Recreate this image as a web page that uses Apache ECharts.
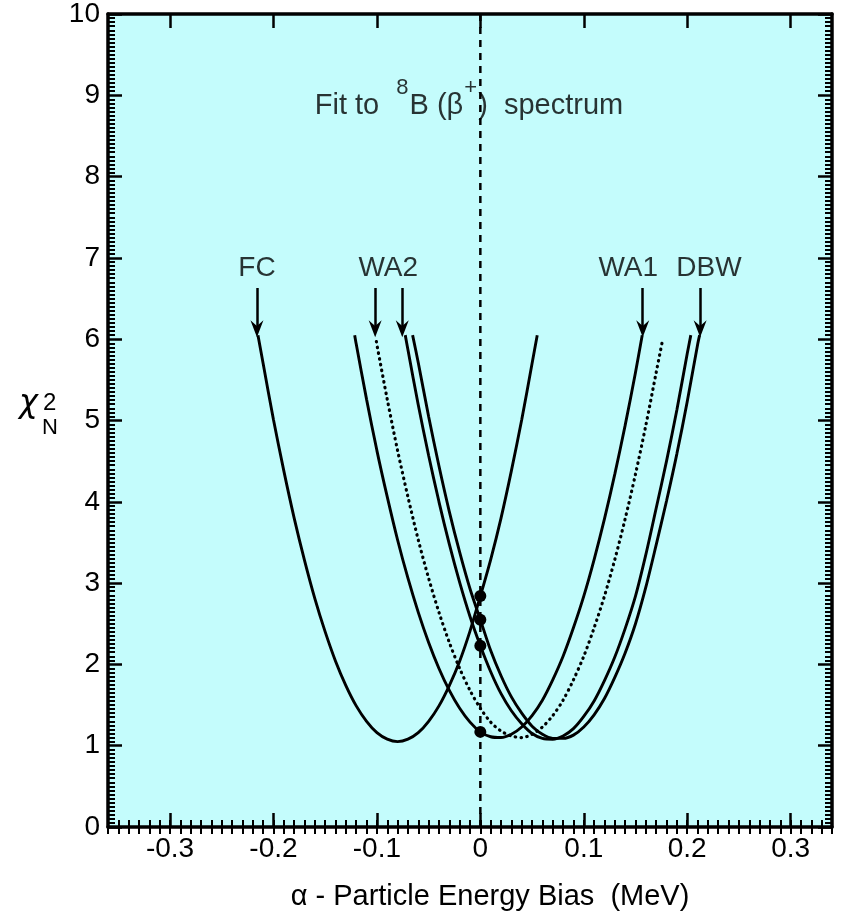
<!DOCTYPE html>
<html>
<head>
<meta charset="utf-8">
<script src="https://cdn.jsdelivr.net/npm/echarts@6/dist/echarts.min.js"></script>
<style>
  html, body { margin: 0; padding: 0; background: #ffffff; }
  #chart { width: 841px; height: 916px; }
</style>
</head>
<body>
<div id="chart"></div>
<script>
// Normalised chi-square vs alpha-particle energy bias (MeV), one curve per data set.
const xTickValues = [-0.3, -0.2, -0.1, 0, 0.1, 0.2, 0.3];
const yTickValues = [0, 1, 2, 3, 4, 5, 6, 7, 8, 9, 10];

const fcCurve = [
  [-0.215, 6.05], [-0.21, 5.70], [-0.20, 5.01], [-0.19, 4.38], [-0.18, 3.80],
  [-0.17, 3.28], [-0.16, 2.81], [-0.15, 2.40], [-0.14, 2.04], [-0.13, 1.74],
  [-0.12, 1.49], [-0.11, 1.30], [-0.10, 1.16], [-0.09, 1.08], [-0.08, 1.05],
  [-0.07, 1.08], [-0.06, 1.16], [-0.05, 1.30], [-0.04, 1.49], [-0.03, 1.74],
  [-0.02, 2.04], [-0.01, 2.41], [0, 2.84], [0.01, 3.29], [0.02, 3.80],
  [0.03, 4.38], [0.04, 5.01], [0.05, 5.70], [0.055, 6.05]
];
const wa1Curve = [
  [-0.1215, 6.05], [-0.12, 5.94], [-0.11, 5.26], [-0.10, 4.63], [-0.09, 4.06],
  [-0.08, 3.53], [-0.07, 3.06], [-0.06, 2.64], [-0.05, 2.27], [-0.04, 1.95],
  [-0.03, 1.68], [-0.02, 1.46], [-0.01, 1.29], [0, 1.17], [0.01, 1.11],
  [0.02, 1.10], [0.03, 1.14], [0.04, 1.23], [0.05, 1.37], [0.06, 1.56],
  [0.07, 1.81], [0.08, 2.10], [0.09, 2.45], [0.10, 2.84], [0.11, 3.29],
  [0.12, 3.79], [0.13, 4.34], [0.14, 4.94], [0.15, 5.59], [0.1565, 6.05]
];
const wa2DottedCurve = [
  [-0.1005, 5.97], [-0.10, 5.93], [-0.09, 5.26], [-0.08, 4.63], [-0.07, 4.06],
  [-0.06, 3.53], [-0.05, 3.06], [-0.04, 2.64], [-0.03, 2.27], [-0.02, 1.95],
  [-0.01, 1.68], [0, 1.46], [0.01, 1.29], [0.02, 1.18], [0.03, 1.12],
  [0.04, 1.10], [0.05, 1.14], [0.06, 1.23], [0.07, 1.37], [0.08, 1.56],
  [0.09, 1.81], [0.10, 2.10], [0.11, 2.45], [0.12, 2.84], [0.13, 3.29],
  [0.14, 3.79], [0.15, 4.34], [0.16, 4.94], [0.17, 5.59], [0.1759, 5.97]
];
const wa2Curve = [
  [-0.0726, 6.05], [-0.07, 5.87], [-0.06, 5.19], [-0.05, 4.57], [-0.04, 4.00],
  [-0.03, 3.48], [-0.02, 3.01], [-0.01, 2.59], [0, 2.23], [0.01, 1.91],
  [0.02, 1.64], [0.03, 1.43], [0.04, 1.27], [0.05, 1.15], [0.06, 1.09],
  [0.07, 1.08], [0.08, 1.12], [0.09, 1.21], [0.10, 1.36], [0.11, 1.55],
  [0.12, 1.80], [0.13, 2.09], [0.14, 2.44], [0.15, 2.84], [0.16, 3.35],
  [0.17, 3.92], [0.18, 4.50], [0.19, 5.13], [0.20, 5.82], [0.2035, 6.05]
];
const dbwCurve = [
  [-0.0655, 6.05], [-0.06, 5.71], [-0.05, 5.05], [-0.04, 4.44], [-0.03, 3.88],
  [-0.02, 3.38], [-0.01, 2.93], [0, 2.55], [0.01, 2.17], [0.02, 1.86],
  [0.03, 1.60], [0.04, 1.40], [0.05, 1.24], [0.06, 1.14], [0.07, 1.09],
  [0.08, 1.09], [0.09, 1.13], [0.10, 1.23], [0.11, 1.38], [0.12, 1.58],
  [0.13, 1.84], [0.14, 2.14], [0.15, 2.50], [0.16, 2.95], [0.17, 3.47],
  [0.18, 4.01], [0.19, 4.59], [0.20, 5.23], [0.21, 5.93], [0.212, 6.05]
];
// chi-square of each fit at zero bias
const zeroBiasPoints = [[0, 2.84], [0, 2.55], [0, 2.23], [0, 1.17]];
// zero-bias reference line
const zeroLine = [[0, 0], [0, 10]];

// curve tags and the curve ends they point at
const tagNames = ['FC', 'WA2', 'WA1', 'DBW'];
const tagX = [-0.216, -0.089, 0.143, 0.221];
const tagY = 6.87;
const arrowX = [-0.216, -0.1017, -0.0755, 0.157, 0.2125];
const arrowTop = 6.63;
const arrowTip = 6.13;
const titlePoint = [-0.011, 8.96];

const FONT = "'Liberation Sans', Arial, Helvetica, sans-serif";
const INK = '#000000';
const BG = '#c4fcfc';

const chart = echarts.init(document.getElementById('chart'), null, { renderer: 'canvas' });

function majorX(position, labels) {
  return {
    type: 'value', position: position, min: -0.36, max: 0.34,
    axisLine: { show: true, onZero: false, lineStyle: { color: INK, width: 3.5 } },
    axisTick: { show: true, inside: true, length: 14, customValues: xTickValues, lineStyle: { color: INK, width: 2.5 } },
    axisLabel: labels ? {
      show: true, customValues: xTickValues, margin: 8, color: INK,
      fontFamily: FONT, fontSize: 28, formatter: v => String(Math.round(v * 10) / 10)
    } : { show: false },
    splitLine: { show: false }
  };
}
function minorX(position) {
  return {
    type: 'value', position: position, min: -0.36, max: 0.34, interval: 0.01,
    axisLine: { show: false },
    axisTick: { show: true, inside: true, length: 7, lineStyle: { color: INK, width: 2 } },
    axisLabel: { show: false },
    splitLine: { show: false }
  };
}
function yAxisDef(position, labels) {
  return {
    type: 'value', position: position, min: 0, max: 10, interval: 1,
    axisLine: { show: true, onZero: false, lineStyle: { color: INK, width: 3.5 } },
    axisTick: { show: true, inside: true, length: 14, lineStyle: { color: INK, width: 2.5 } },
    minorTick: { show: true, splitNumber: 20, length: 7, lineStyle: { color: INK, width: 2 } },
    axisLabel: labels ? { show: true, margin: 8, color: INK, fontFamily: FONT, fontSize: 28 } : { show: false },
    splitLine: { show: false }, minorSplitLine: { show: false }
  };
}

function curve(name, data, dotted) {
  return {
    name: name, type: 'line', data: data, smooth: 0.3, showSymbol: false, symbol: 'none',
    xAxisIndex: 0, yAxisIndex: 0, silent: true, z: 3,
    lineStyle: dotted
      ? { color: INK, width: 3.2, type: [0.5, 5.3], cap: 'round' }
      : { color: INK, width: 2.9 }
  };
}

const arrowHead = 'path://M5,0 L10,10 L5,6.5 L0,10 Z';

const option = {
  backgroundColor: '#ffffff',
  animation: false,
  grid: { left: 108, right: 9, top: 14, bottom: 78, show: true, backgroundColor: BG, borderWidth: 0 },
  xAxis: [
    Object.assign(majorX('bottom', true), {
      name: 'α - Particle Energy Bias  (MeV)', nameLocation: 'middle', nameGap: 55,
      nameTextStyle: { color: INK, fontFamily: FONT, fontSize: 29, padding: [0, 0, 0, 40] }
    }),
    minorX('bottom'),
    majorX('top', false),
    minorX('top')
  ],
  yAxis: [yAxisDef('left', true), yAxisDef('right', false)],
  graphic: [
    { type: 'text', x: 19, y: 404, style: { text: 'χ', font: "italic 32px 'DejaVu Sans'", fill: INK, verticalAlign: 'middle' } },
    { type: 'text', x: 43, y: 403, style: { text: '2', font: '24px ' + FONT, fill: INK, verticalAlign: 'middle' } },
    { type: 'text', x: 42, y: 428, style: { text: 'N', font: '22px ' + FONT, fill: INK, verticalAlign: 'middle' } }
  ],
  series: [
    {
      name: 'zero bias', type: 'line', data: zeroLine, showSymbol: false, symbol: 'none',
      silent: true, z: 2, lineStyle: { color: INK, width: 2.5, type: [7, 6] }
    },
    curve('FC', fcCurve, false),
    curve('WA1', wa1Curve, false),
    curve('WA2 (dotted)', wa2DottedCurve, true),
    curve('WA2', wa2Curve, false),
    curve('DBW', dbwCurve, false),
    {
      name: 'zero-bias values', type: 'scatter', data: zeroBiasPoints, symbol: 'circle',
      symbolSize: 12, silent: true, z: 5, itemStyle: { color: INK, opacity: 1 }
    },
    {
      name: 'arrows', type: 'line', data: [], silent: true,
      markLine: {
        silent: true, animation: false,
        symbol: ['none', arrowHead], symbolSize: [13, 17],
        label: { show: false },
        lineStyle: { color: INK, width: 2.5, type: 'solid' },
        data: arrowX.map(x => [{ coord: [x, arrowTop] }, { coord: [x, arrowTip] }])
      }
    },
    {
      name: 'tags', type: 'scatter', symbolSize: 0, silent: true, z: 6,
      data: tagNames.map((n, i) => ({ name: n, value: [tagX[i], tagY] })),
      label: {
        show: true, position: 'inside', formatter: '{b}', color: INK,
        fontFamily: FONT, fontSize: 28
      }
    },
    {
      name: 'title', type: 'scatter', symbolSize: 0, silent: true, z: 6,
      data: [{ value: titlePoint }],
      label: {
        show: true, position: 'inside', color: INK,
        formatter: '{t|Fit to  }{s|8}{t|B (β}{s|+}{t|)  spectrum}',
        rich: {
          t: { fontFamily: FONT, fontSize: 29, color: INK, lineHeight: 44, verticalAlign: 'bottom' },
          s: { fontFamily: FONT, fontSize: 22, color: INK, lineHeight: 44, verticalAlign: 'top', padding: [0, 1, 0, 1] }
        }
      }
    }
  ]
};

chart.setOption(option);
</script>
</body>
</html>
